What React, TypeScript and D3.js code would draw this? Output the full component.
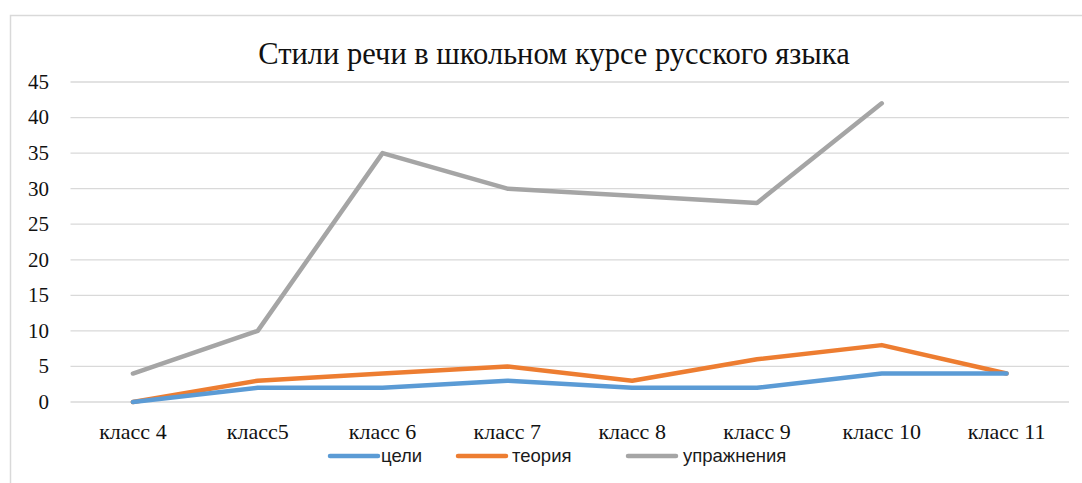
import React from "react";
import * as d3 from "d3";

const categories = ["класс 4", "класс5", "класс 6", "класс 7", "класс 8", "класс 9", "класс 10", "класс 11"];
const goals = [0, 2, 2, 3, 2, 2, 4, 4];
const theory = [0, 3, 4, 5, 3, 6, 8, 4];
const exercises: (number | null)[] = [4, 10, 35, 30, 29, 28, 42, null];
const yTicks = [0, 5, 10, 15, 20, 25, 30, 35, 40, 45];
const title = "Стили речи в школьном курсе русского языка";

const series = [
  { name: "цели", values: goals as (number | null)[], color: "#5B9BD5" },
  { name: "теория", values: theory as (number | null)[], color: "#ED7D31" },
  { name: "упражнения", values: exercises, color: "#A5A5A5" },
];

const W = 1082;
const H = 483;
const left = 70.5;
const right = 1069;
const top = 82;
const bottom = 402;
const SERIF = "'Liberation Serif', 'Times New Roman', serif";
const SANS = "'Liberation Sans', Arial, sans-serif";

export default function App() {
  const x = d3.scaleBand<string>().domain(categories).range([left, right]);
  const y = d3.scaleLinear().domain([0, 45]).range([bottom, top]);
  const cx = (c: string) => (x(c) as number) + x.bandwidth() / 2;

  const line = d3
    .line<{ c: string; v: number | null }>()
    .defined((d) => d.v !== null)
    .x((d) => cx(d.c))
    .y((d) => y(d.v as number));

  const legendItems = [
    { lineX: 330, textX: 381 },
    { lineX: 458, textX: 512 },
    { lineX: 628, textX: 683 },
  ];

  return (
    <svg width={W} height={H} style={{ position: "absolute", left: 0, top: 0, background: "#fff" }}>
      <rect x={0} y={0} width={W} height={H} fill="#fff" />
      <rect x={10.5} y={15.5} width={W + 20} height={H + 20} fill="#fff" stroke="#d9d9d9" strokeWidth={1.5} />
      <text x={554} y={64} textAnchor="middle" style={{ fontFamily: SERIF, fontSize: 30.5 }} fill="#111">
        {title}
      </text>
      {yTicks.map((t) => (
        <g key={t}>
          <line x1={left} x2={right} y1={y(t)} y2={y(t)} stroke="#d9d9d9" strokeWidth={1.3} />
          <text x={49} y={y(t)} dy="0.33em" textAnchor="end" style={{ fontFamily: SERIF, fontSize: 21 }} fill="#111">
            {t}
          </text>
        </g>
      ))}
      {categories.map((c) => (
        <text key={c} x={cx(c)} y={439} textAnchor="middle" style={{ fontFamily: SERIF, fontSize: 22 }} fill="#111">
          {c}
        </text>
      ))}
      {series
        .slice()
        .reverse()
        .map((s) => (
          <path
            key={s.name}
            d={line(categories.map((c, i) => ({ c, v: s.values[i] }))) || ""}
            fill="none"
            stroke={s.color}
            strokeWidth={4.5}
            strokeLinejoin="round"
            strokeLinecap="round"
          />
        ))}
      {series.map((s, i) => (
        <g key={s.name}>
          <line
            x1={legendItems[i].lineX}
            x2={legendItems[i].lineX + 48}
            y1={456}
            y2={456}
            stroke={s.color}
            strokeWidth={4.5}
            strokeLinecap="round"
          />
          <text x={legendItems[i].textX} y={456} dy="0.35em" style={{ fontFamily: SANS, fontSize: 18.5 }} fill="#1a1a1a">
            {s.name}
          </text>
        </g>
      ))}
    </svg>
  );
}
